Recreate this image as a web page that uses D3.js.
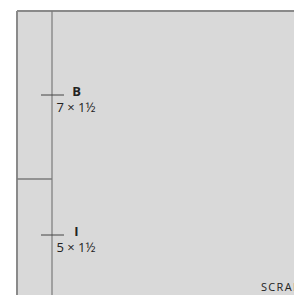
<!DOCTYPE html>
<html><head><meta charset="utf-8">
<script src="https://cdn.jsdelivr.net/npm/d3@7"></script>
<style>html,body{margin:0;padding:0;background:#fff;overflow:hidden}svg{display:block}</style>
</head><body>
<script>
const pieces = ["B", "I"];
const sizes = ["7 × 1½", "5 × 1½"];
const lengths = [24, 16];
const scrapLabel = "SCRAP";

const W = 294, H = 295;
const svg = d3.select("body").append("svg").attr("width", W).attr("height", H);

const starts = [];
let acc = 0;
lengths.forEach(l => { starts.push(acc); acc += l; });
const y = d3.scaleLinear().domain([0, 24]).range([11, 179]);
const x0 = 17, xs = 52;

svg.append("rect").attr("x", x0).attr("y", y(0)).attr("width", W - x0).attr("height", H - y(0)).attr("fill", "#d9d9d9");
svg.append("line").attr("x1", x0).attr("x2", W).attr("y1", y(0)).attr("y2", y(0)).attr("stroke", "#8a8a8a").attr("stroke-width", 2);
svg.append("line").attr("x1", x0).attr("x2", x0).attr("y1", y(0)).attr("y2", H).attr("stroke", "#8a8a8a").attr("stroke-width", 2);
svg.append("line").attr("x1", xs).attr("x2", xs).attr("y1", y(0)).attr("y2", H).attr("stroke", "#7a7a7a").attr("stroke-width", 1.2);

pieces.forEach((p, i) => {
  const s = starts[i], e = s + lengths[i], m = (s + e) / 2;
  if (i > 0) svg.append("line").attr("x1", x0).attr("x2", xs).attr("y1", y(s)).attr("y2", y(s)).attr("stroke", "#7a7a7a").attr("stroke-width", 1.5);
  svg.append("line").attr("x1", 41).attr("x2", 64).attr("y1", y(m)).attr("y2", y(m)).attr("stroke", "#444").attr("stroke-width", 1);
  svg.append("text").attr("x", 76.5).attr("y", y(m) + 1).attr("text-anchor", "middle")
    .attr("font-family", "Open Sans, sans-serif").attr("font-size", 13).attr("font-weight", "bold").attr("fill", "#222").text(p);
  svg.append("text").attr("x", 56.5).attr("y", y(m) + 17).attr("font-family", "Open Sans, sans-serif")
    .attr("font-size", 13).attr("fill", "#222").text(sizes[i]);
});

svg.append("text").attr("x", 261).attr("y", 291).attr("font-family", "Open Sans, sans-serif")
  .attr("font-size", 11).attr("letter-spacing", 1.3).attr("fill", "#222").text(scrapLabel);
</script>
</body></html>
